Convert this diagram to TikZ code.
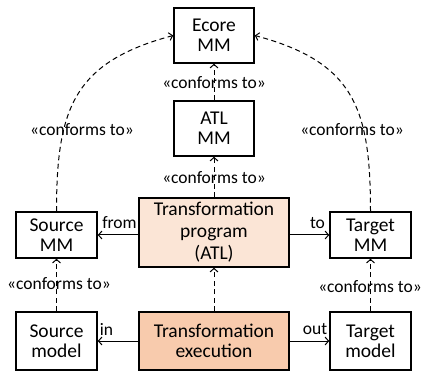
\documentclass[tikz,border=0pt]{standalone}
\usepackage{fontspec}
\setmainfont{Carlito}
\usetikzlibrary{arrows.meta}
\definecolor{progfill}{HTML}{FBE5D6}
\definecolor{execfill}{HTML}{F8CBAD}

\begin{document}
\begin{tikzpicture}[x=1pt,y=-1pt]
  \tikzset{box/.style = {shape=rectangle,draw,line width=1.6pt,align=center,inner sep=1pt,font=\fontsize{19.5}{20}\selectfont}}
  \tikzset{mmbox/.style = {box,minimum width=81pt,minimum height=46pt}}
  \tikzset{modelbox/.style = {box,minimum width=81pt,minimum height=58pt}}
  \tikzset{topbox/.style = {box,minimum width=80pt,minimum height=55pt}}
  \tikzset{edge/.style = {-{Straight Barb[length=3.5pt,width=8pt]},line width=1pt}}
  \tikzset{conf/.style = {edge,dash pattern=on 5pt off 3.5pt}}
  \tikzset{lbl/.style = {font=\fontsize{17.5}{18}\selectfont,inner sep=0pt}}

  \useasboundingbox (0,0) rectangle (423,374);

	\node[topbox] (ecore) at (214,35.5) {Ecore\\MM};
	\node[topbox] (atl) at (214,128.5) {ATL\\MM};

	\node[box,fill=progfill,minimum width=150pt,minimum height=69pt,font=\fontsize{19.5}{22}\selectfont] (prog) at (214,232.5) {Transformation\\program\\(ATL)};
	\node[mmbox] (smm) at (56.5,235) {Source\\MM};
	\node[mmbox] (tmm) at (370.5,235) {Target\\MM};

	\node[box,fill=execfill,minimum width=150pt,minimum height=58pt] (exec) at (214,341) {Transformation\\execution};
	\node[modelbox] (smod) at (56.5,341) {Source\\model};
	\node[modelbox] (tmod) at (370.5,341) {Target\\model};

	% conformance labels
	\node[lbl] (catl) at (214,83) {«conforms to»};
	\node[lbl] (cprog) at (214,178) {«conforms to»};
	\node[lbl] (csmm) at (82,130) {«conforms to»};
	\node[lbl] (ctmm) at (352,130) {«conforms to»};
	\node[lbl] (csmod) at (59,284) {«conforms to»};
	\node[lbl] (ctmod) at (370,287) {«conforms to»};

	\node[lbl] (lfrom) at (119.5,223) {from};
	\node[lbl] (lto) at (317.5,223) {to};
	\node[lbl] (lin) at (106.5,329) {in};
	\node[lbl] (lout) at (315,329) {out};

    \foreach \from/\to in {smod/smm,tmod/tmm,exec/prog,prog/atl,atl/ecore}
    \draw[conf] (\from) -- (\to);

    \draw[conf] (smm.north) to[out=90,in=195,looseness=1.25] (ecore.west);
    \draw[conf] (tmm.north) to[out=90,in=-15,looseness=1.25] (ecore.east);

    \draw[edge] (prog.west |- smm) -- (smm);
    \draw[edge] (prog.east |- tmm) -- (tmm);
    \foreach \to in {smod,tmod}
    \draw[edge] (exec) -- (\to);

\end{tikzpicture}
\end{document}
